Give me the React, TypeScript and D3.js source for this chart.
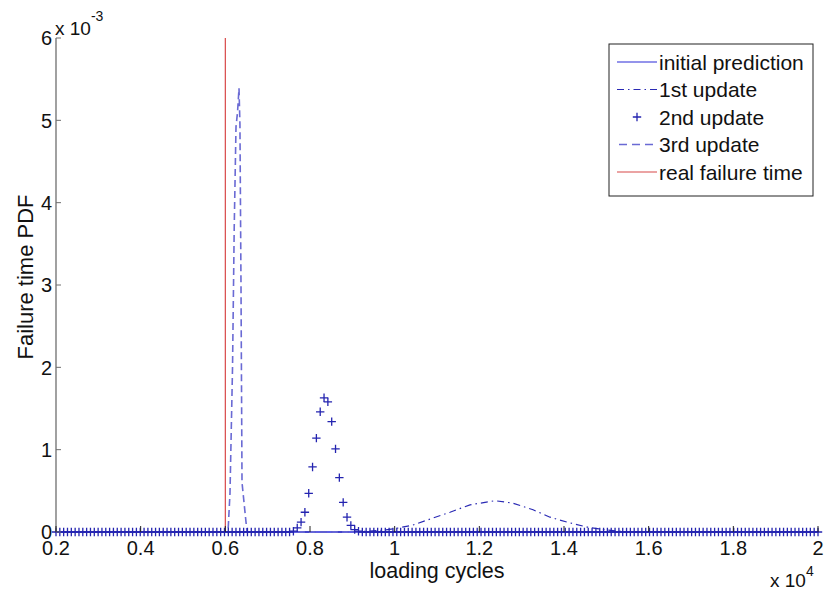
import React from "react";
import * as d3 from "d3";

// ---- data (PDF values in units of 1e-3, x in loading cycles) ----
const xTickValues = [2000, 4000, 6000, 8000, 10000, 12000, 14000, 16000, 18000, 20000];
const xTickLabels = ["0.2", "0.4", "0.6", "0.8", "1", "1.2", "1.4", "1.6", "1.8", "2"];
const yTickValues = [0, 1, 2, 3, 4, 5, 6];
const yTickLabels = ["0", "1", "2", "3", "4", "5", "6"];

const initialX = [2000, 20000];
const initialY = [0, 0];

const firstX = [2000, 9000, 9700, 10000, 10434, 10906, 11308, 11780, 12371, 12796, 13269, 13670, 14072, 14544, 15000, 15500, 20000];
const firstY = [0, 0, 0.02, 0.04, 0.085, 0.17, 0.24, 0.33, 0.38, 0.35, 0.27, 0.18, 0.12, 0.06, 0.025, 0, 0];

// 2nd update: markers on a 200-point sampling grid; nonzero samples start at index 62
const secondSampleCount = 200;
const secondPeakStart = 62;
const secondPeakY = [0.01, 0.05, 0.12, 0.24, 0.47, 0.79, 1.14, 1.46, 1.63, 1.58, 1.34, 1.01, 0.66, 0.36, 0.18, 0.08, 0.03, 0.01];

const thirdX = [2000, 6063, 6110, 6170, 6210, 6252, 6288, 6323, 6345, 6370, 6394, 6512, 20000];
const thirdY = [0, 0, 0.47, 2.0, 3.7, 4.92, 5.1, 5.39, 4.95, 3.0, 0.6, 0, 0];

const realFailureX = 6000;
const realFailureTop = 6;

const legendLabels = ["initial prediction", "1st update", "2nd update", "3rd update", "real failure time"];

const W = 829;
const H = 595;
const FONT = "'Liberation Sans', Arial, Helvetica, sans-serif";

export default function App() {
  const x = d3.scaleLinear().domain([2000, 20000]).range([56, 818]);
  const y = d3.scaleLinear().domain([0, 6]).range([532, 38]);

  const line = d3
    .line<[number, number]>()
    .x((d) => x(d[0]))
    .y((d) => y(d[1]));

  const zip = (a: number[], b: number[]) => a.map((v, i) => [v, b[i]] as [number, number]);

  const secondGrid = d3.range(secondSampleCount).map((i) => 2000 + (i * 18000) / (secondSampleCount - 1));
  const secondPts = secondGrid.map((gx, i) => {
    const k = i - secondPeakStart;
    const v = k >= 0 && k < secondPeakY.length ? secondPeakY[k] : 0;
    return [gx, v] as [number, number];
  });

  const blueSolid = "#2a2ad8";
  const blueDashDot = "#2a2ab4";
  const blueMarker = "#2424b0";
  const blueDash = "#6a6ad4";
  const red = "#d84848";

  const plus = (cx: number, cy: number, key: string | number, r = 4.2) => (
    <path
      key={key}
      d={`M${cx - r},${cy}H${cx + r}M${cx},${cy - r}V${cy + r}`}
      stroke={blueMarker}
      strokeWidth={1.3}
      fill="none"
    />
  );

  const legendRowsY = [62, 89.5, 117, 144.5, 172];

  return (
    <svg
      width={W}
      height={H}
      style={{ position: "absolute", left: 0, top: 0, background: "#fff" }}
      fontFamily={FONT}
    >
      <rect x={0} y={0} width={W} height={H} fill="#fff" />

      {/* real failure time */}
      <line
        x1={x(realFailureX)}
        x2={x(realFailureX)}
        y1={y(0)}
        y2={y(realFailureTop)}
        stroke={red}
        strokeWidth={1.2}
      />

      {/* initial prediction */}
      <path d={line(zip(initialX, initialY)) || ""} fill="none" stroke={blueSolid} strokeWidth={1.5} />

      {/* 1st update */}
      <path
        d={line(zip(firstX, firstY)) || ""}
        fill="none"
        stroke={blueDashDot}
        strokeWidth={1.2}
        strokeDasharray="7,4,1.5,4"
      />

      {/* 3rd update */}
      <path
        d={line(zip(thirdX, thirdY)) || ""}
        fill="none"
        stroke={blueDash}
        strokeWidth={1.6}
        strokeDasharray="7,4"
      />

      {/* 2nd update markers */}
      {secondPts.map((p, i) => plus(x(p[0]), y(p[1]), "m" + i))}

      {/* y axis */}
      <line x1={56} x2={56} y1={y(6)} y2={y(0)} stroke="#6e6e6e" strokeWidth={1.3} />
      {yTickValues.map((v, i) => (
        <g key={"yt" + i}>
          <line x1={56} x2={61} y1={y(v)} y2={y(v)} stroke="#6e6e6e" strokeWidth={1} />
          <text x={52} y={y(v)} dy="0.36em" textAnchor="end" fontSize={20} fill="#111">
            {yTickLabels[i]}
          </text>
        </g>
      ))}

      {/* x axis ticks */}
      {xTickValues.map((v, i) => (
        <g key={"xt" + i}>
          <line x1={x(v)} x2={x(v)} y1={532} y2={526} stroke="#222" strokeWidth={1} />
          <text x={x(v)} y={555} textAnchor="middle" fontSize={20} fill="#111">
            {xTickLabels[i]}
          </text>
        </g>
      ))}

      {/* exponents */}
      <text x={55} y={35} fontSize={19} fill="#111">
        x 10
        <tspan fontSize={14} dy={-14}>
          -3
        </tspan>
      </text>
      <text x={770} y={587} fontSize={19} fill="#111">
        x 10
        <tspan fontSize={14} dy={-11}>
          4
        </tspan>
      </text>

      {/* axis labels */}
      <text x={437} y={578} textAnchor="middle" fontSize={21.5} fill="#111">
        loading cycles
      </text>
      <text transform="translate(33,277) rotate(-90)" textAnchor="middle" fontSize={22} fill="#111">
        Failure time PDF
      </text>

      {/* legend */}
      <rect x={609} y={44} width={204} height={152} fill="#fff" stroke="#222" strokeWidth={1} />
      {legendLabels.map((lab, i) => (
        <text key={"lt" + i} x={659} y={legendRowsY[i]} dy="0.36em" fontSize={21} fill="#111">
          {lab}
        </text>
      ))}
      <line x1={617} x2={657} y1={legendRowsY[0]} y2={legendRowsY[0]} stroke={blueSolid} strokeWidth={1.2} />
      <line
        x1={617}
        x2={657}
        y1={legendRowsY[1]}
        y2={legendRowsY[1]}
        stroke={blueDashDot}
        strokeWidth={1.2}
        strokeDasharray="7,4,1.5,4"
      />
      {plus(637, legendRowsY[2], "lp")}
      <line
        x1={619}
        x2={657}
        y1={legendRowsY[3]}
        y2={legendRowsY[3]}
        stroke={blueDash}
        strokeWidth={1.5}
        strokeDasharray="8,5"
      />
      <line x1={617} x2={657} y1={legendRowsY[4]} y2={legendRowsY[4]} stroke={red} strokeWidth={1.2} />
    </svg>
  );
}
